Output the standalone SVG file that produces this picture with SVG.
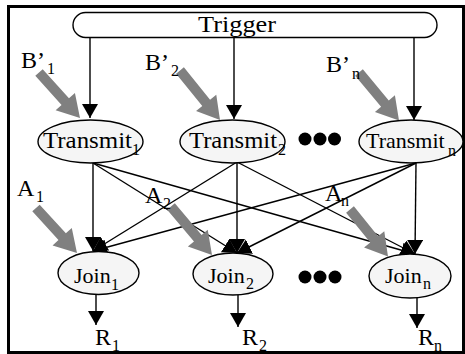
<svg xmlns="http://www.w3.org/2000/svg" width="465" height="354" viewBox="0 0 465 354">
<defs>
<style>
text{font-family:"Liberation Serif","Times New Roman",serif;fill:#000}
.m{font-size:24px}
.s{font-size:16px}
.ss{font-size:16px}
.j{font-size:22px}
.node{fill:#f5f5f5;stroke:#000;stroke-width:1.4}
.c{fill:none;stroke:#000;stroke-width:1.4;marker-end:url(#ah)}
.g{fill:#808080;stroke:none}
.dot{fill:#000}
</style>
<marker id="ah" markerUnits="userSpaceOnUse" markerWidth="16" markerHeight="18" refX="14" refY="8" orient="auto" viewBox="0 0 16 18">
<path d="M0,0 L14,8 L0,16 z" fill="#000"/>
</marker>
</defs>
<rect x="8.5" y="6.5" width="455" height="346" fill="#fff" stroke="#000" stroke-width="3"/>

<g id="trigger">
<rect x="73" y="12.5" width="364" height="25" rx="12.5" ry="12.5" fill="#fff" stroke="#000" stroke-width="1.4"/>
<text class="m" x="198" y="32" textLength="78" lengthAdjust="spacingAndGlyphs">Trigger</text>
</g>

<g id="connectors">
<path class="c" d="M90,38 V118"/>
<path class="c" d="M234,38 V119"/>
<path class="c" d="M414,38 V120"/>
<path class="c" d="M93,163 L93,251"/>
<path class="c" d="M93,163 L237,253"/>
<path class="c" d="M93,163 L415,254"/>
<path class="c" d="M237,162 L93,251"/>
<path class="c" d="M237,162 L237,253"/>
<path class="c" d="M237,162 L415,254"/>
<path class="c" d="M416,163 L93,251"/>
<path class="c" d="M416,163 L237,253"/>
<path class="c" d="M416,163 L415,254"/>
<path class="c" d="M96,294 V325"/>
<path class="c" d="M238,295 V327"/>
<path class="c" d="M417,298 V328"/>
</g>

<g id="inputs">
<polygon class="g" points="35.29,75.85 61.56,105.01 55.61,110.36 80,118 74.93,92.96 68.98,98.31 42.71,69.15"/>
<polygon class="g" points="176.11,73.64 202.28,106.03 196.06,111.06 220,120 216.28,94.72 210.06,99.75 183.89,67.36"/>
<polygon class="g" points="355.16,75.70 381.08,106.80 374.93,111.92 399,120.5 394.91,95.28 388.76,100.40 362.84,69.30"/>
<polygon class="g" points="32.30,211.37 58.48,240.11 52.57,245.50 77,253 71.79,227.98 65.88,233.37 39.70,204.63"/>
<polygon class="g" points="167.18,209.73 193.98,241.43 187.87,246.59 212,255 207.73,229.81 201.62,234.97 174.82,203.27"/>
<polygon class="g" points="346.11,212.64 370.28,242.53 364.06,247.56 388,256.5 384.28,231.22 378.06,236.25 353.89,206.36"/>
</g>

<g id="transmit1">
<ellipse class="node" cx="90.5" cy="141.5" rx="52.5" ry="21.5"/>
<text class="m" x="43" y="148" textLength="89" lengthAdjust="spacingAndGlyphs">Transmit</text>
<text class="ss" x="132" y="155">1</text>
</g>
<g id="transmit2">
<ellipse class="node" cx="232.5" cy="141.5" rx="52.5" ry="21.5"/>
<text class="m" x="189" y="148" textLength="88" lengthAdjust="spacingAndGlyphs">Transmit</text>
<text class="ss" x="278" y="155">2</text>
</g>
<g id="transmitn">
<ellipse class="node" cx="411" cy="141.5" rx="52" ry="21.5"/>
<text x="366" y="148" font-size="22">Transmit</text>
<text class="ss" x="448" y="156">n</text>
</g>
<g id="dots-top">
<circle class="dot" cx="305" cy="139" r="6.5"/>
<circle class="dot" cx="320" cy="139" r="6.5"/>
<circle class="dot" cx="334.5" cy="139" r="6.5"/>
</g>

<g id="join1">
<ellipse class="node" cx="98.5" cy="273" rx="40.5" ry="21.5"/>
<text class="j" x="74" y="283">Join</text>
<text class="ss" x="111" y="290">1</text>
</g>
<g id="join2">
<ellipse class="node" cx="233" cy="274" rx="40" ry="21"/>
<text class="j" x="208" y="283">Join</text>
<text class="ss" x="246" y="289">2</text>
</g>
<g id="joinn">
<ellipse class="node" cx="410" cy="276" rx="41" ry="22"/>
<text class="j" x="385" y="283">Join</text>
<text class="ss" x="423" y="289">n</text>
</g>
<g id="dots-bottom">
<circle class="dot" cx="305" cy="277" r="6.5"/>
<circle class="dot" cx="320" cy="277" r="6.5"/>
<circle class="dot" cx="335" cy="277" r="6.5"/>
</g>

<g id="labels">
<text class="m" x="21" y="68">B’</text><text class="s" x="47" y="74">1</text>
<text class="m" x="145" y="70">B’</text><text class="s" x="171" y="76">2</text>
<text class="m" x="326" y="72">B’</text><text class="s" x="352" y="79">n</text>
<text class="m" x="17" y="196">A</text><text class="s" x="36" y="202">1</text>
<text class="m" x="145" y="203">A</text><text class="s" x="163" y="209">2</text>
<text class="m" x="325" y="201">A</text><text class="s" x="341" y="206">n</text>
<text class="m" x="95" y="345">R</text><text class="s" x="112" y="351">1</text>
<text class="m" x="242" y="345">R</text><text class="s" x="259" y="351">2</text>
<text class="m" x="418" y="345">R</text><text class="s" x="434" y="351">n</text>
</g>
</svg>
